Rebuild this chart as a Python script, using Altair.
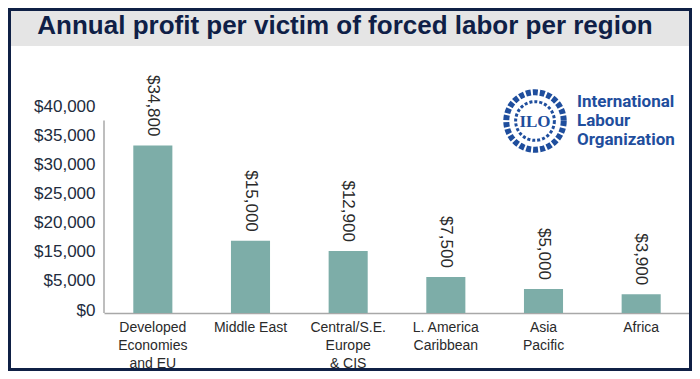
import json
import altair as alt
import pandas as pd

# ---- data ----
regions = [
    "Developed\nEconomies\nand EU",
    "Middle East",
    "Central/S.E.\nEurope\n& CIS",
    "L. America\nCaribbean",
    "Asia\nPacific",
    "Africa",
]
profits = [34800, 15000, 12900, 7500, 5000, 3900]
y_tick_labels = ["$0", "$5,000", "$15,000", "$20,000", "$25,000", "$30,000", "$35,000", "$40,000"]
title_text = "Annual profit per victim of forced labor per region"
logo_lines = ["International", "Labour", "Organization"]

df = pd.DataFrame({"region": regions, "profit": profits})

W, H = 586, 207
PAD = {"left": 96, "top": 98, "right": 2, "bottom": 58}
tick_step = 6050
tick_values = [i * tick_step for i in range(len(y_tick_labels))]
label_expr = json.dumps(y_tick_labels) + f"[round(datum.value / {tick_step})]"

one = pd.DataFrame({"a": [0]})

x_axis = alt.Axis(
    title=None,
    labelAngle=0,
    labelExpr="split(datum.label, '\\n')",
    labelFont="Liberation Sans",
    labelFontSize=14,
    labelColor="#2a2a2a",
    labelLineHeight=18,
    labelPadding=7,
    labelBaseline="top",
    ticks=False,
    domainColor="#a8a8a8",
    domainWidth=1.5,
)
y_axis = alt.Axis(
    title=None,
    values=tick_values,
    labelExpr=label_expr,
    labelFont="Liberation Sans",
    labelFontSize=17,
    labelColor="#222b3d",
    labelPadding=9,
    labelOffset=-3,
    labelOverlap=False,
    labelBound=False,
    labelFlush=False,
    ticks=False,
    domain=False,
    grid=False,
)
x_scale = alt.Scale(paddingInner=0.6, paddingOuter=0.3)
y_scale = alt.Scale(domain=[0, 43000], nice=False)

# decorations
banner = alt.Chart(one).mark_rect(color="#e5e5e5").encode(
    x=alt.value(-93), x2=alt.value(585), y=alt.value(-95), y2=alt.value(-60)
)
frame = alt.Chart(one).mark_rect(fill=None, stroke="#0f2045", strokeWidth=3).encode(
    x=alt.value(-94.5), x2=alt.value(586.5), y=alt.value(-96.5), y2=alt.value(263.5)
)
title = alt.Chart(one).mark_text(
    text=title_text, font="Liberation Sans", fontWeight="bold", fontSize=26,
    color="#0f1f47", align="center", baseline="alphabetic",
).encode(x=alt.value(241), y=alt.value(-72))

logo_layers = []
for k, line in enumerate(logo_lines):
    logo_layers.append(
        alt.Chart(one).mark_text(
            text=line, font="Roboto",
            fontWeight="bold", fontSize=17,
            color="#1f4e9d", align="left", baseline="alphabetic",
        ).encode(x=alt.value(473), y=alt.value(1 + 19 * k))
    )
ring_outer = alt.Chart(one).mark_point(
    shape="circle", size=3300, filled=False, stroke="#1f4e9d", strokeWidth=6,
    strokeDash=[5, 2], opacity=1,
).encode(x=alt.value(431), y=alt.value(15))
ring_inner = alt.Chart(one).mark_point(
    shape="circle", size=1500, filled=False, stroke="#1f4e9d", strokeWidth=3,
    strokeDash=[3, 2], opacity=1,
).encode(x=alt.value(431), y=alt.value(15))
ilo = alt.Chart(one).mark_text(
    text="ILO", font="Liberation Serif", fontWeight="bold", fontSize=17,
    color="#1f4e9d", align="center", baseline="middle",
).encode(x=alt.value(431), y=alt.value(16))

base = alt.Chart(df)
bars = base.mark_bar(color="#7dada8").encode(
    x=alt.X("region:N", sort=None, scale=x_scale, axis=x_axis),
    y=alt.Y("profit:Q", scale=y_scale, axis=y_axis),
)
values = base.mark_text(
    angle=90, align="right", baseline="middle", dx=-9,
    font="Liberation Sans", fontSize=17, color="#2a2a2a",
).encode(
    x=alt.X("region:N", sort=None, scale=x_scale, axis=x_axis),
    y=alt.Y("profit:Q", scale=y_scale, axis=y_axis),
    text=alt.Text("profit:Q", format="$,.0f"),
)
left_axis = alt.Chart(one).mark_rule(color="#a8a8a8", strokeWidth=1.5).encode(
    x=alt.value(0),
    y=alt.Y(datum=0, type="quantitative", scale=y_scale, axis=y_axis),
    y2=alt.datum(40000),
)

chart = alt.layer(
    banner, frame, title, *logo_layers, ring_outer, ring_inner, ilo,
    bars, values, left_axis,
).properties(
    width=W, height=H,
    autosize=alt.AutoSizeParams(type="none"),
    padding=PAD,
    background="white",
).configure_view(stroke=None).configure_axisY(labelOverlap=False)

chart.save("out.html", embed_options={"renderer": "svg", "actions": False})
